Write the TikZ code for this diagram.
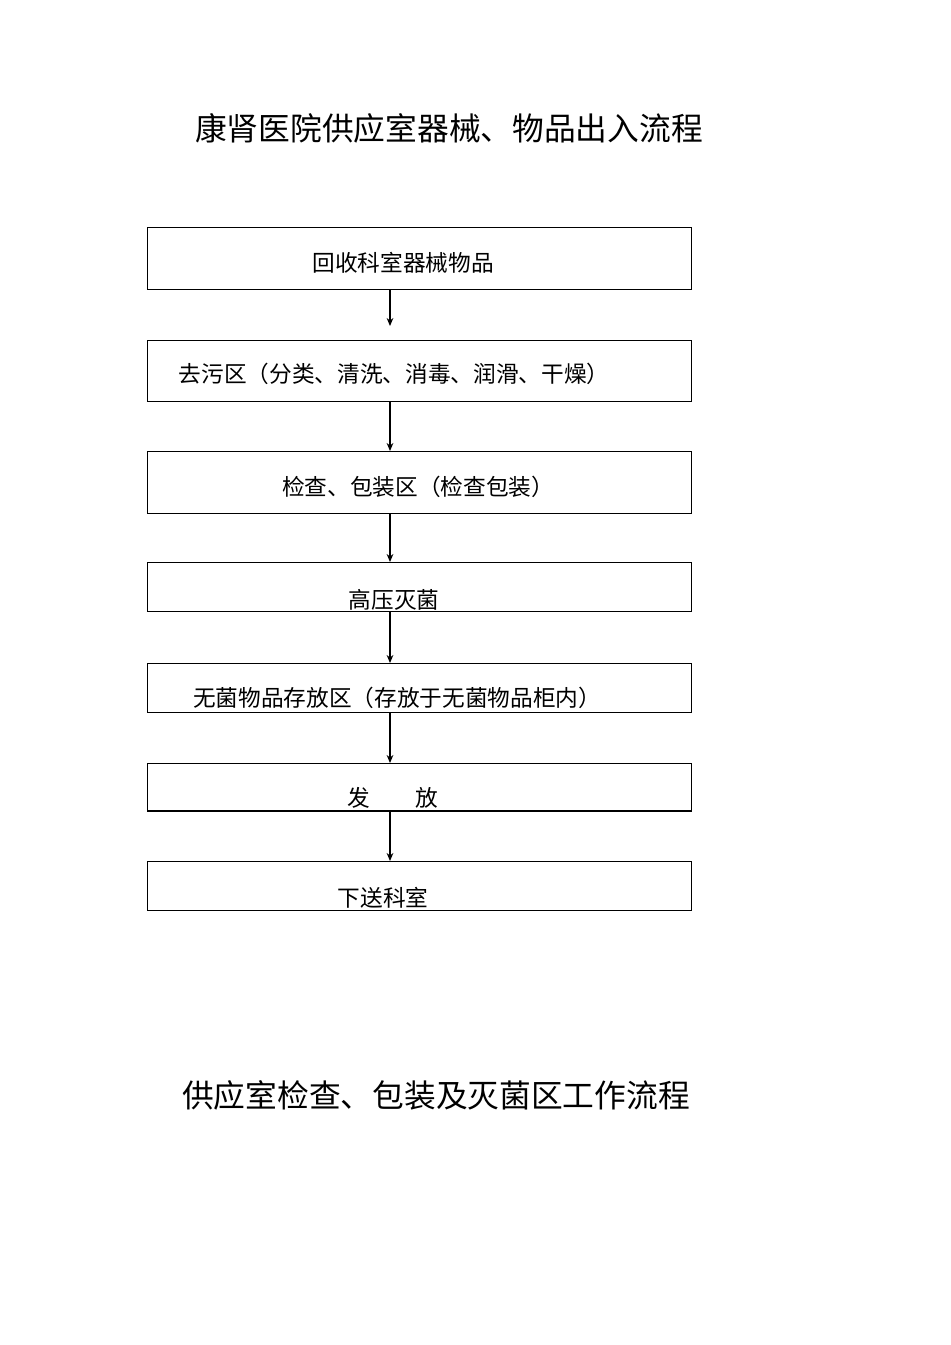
\documentclass[tikz,border=0pt]{standalone}
\usepackage{fontspec}
\newfontfamily\cjk{Noto Sans CJK SC}
\usetikzlibrary{arrows.meta}
\begin{document}
\begin{tikzpicture}[x=0.75pt,y=-0.75pt,
  box/.style={draw,thin,line width=0.6pt},
  lbl/.style={font=\cjk\fontsize{17}{19}\selectfont,inner sep=0pt,anchor=base},
  ttl/.style={font=\cjk\fontsize{23.8}{27}\selectfont,inner sep=0pt},
  arr/.style={-{Stealth[length=6pt,width=5pt]},line width=0.8pt}]
\useasboundingbox (0,0) rectangle (950,1345);
\node[ttl] (t1) at (449,128) {康肾医院供应室器械、物品出入流程};
\node[ttl] (t2) at (436,1095) {供应室检查、包装及灭菌区工作流程};
\draw[box] (147,227) rectangle (691,289); \coordinate (b1) at (390,289);
\node[lbl] (l1) at (403,271) {回收科室器械物品};
\draw[box] (147,340) rectangle (691,401); \coordinate (b2) at (390,401);
\node[lbl] (l2) at (394,382) {去污区（分类、清洗、消毒、润滑、干燥）};
\draw[box] (147,451) rectangle (691,513); \coordinate (t3) at (390,451); \coordinate (b3) at (390,513);
\node[lbl] (l3) at (418,495) {检查、包装区（检查包装）};
\draw[box] (147,562) rectangle (691,611); \coordinate (t4) at (390,562); \coordinate (b4) at (390,611);
\node[lbl] (l4) at (394,608) {高压灭菌};
\draw[box] (147,663) rectangle (691,712); \coordinate (t5) at (390,663); \coordinate (b5) at (390,712);
\node[lbl] (l5) at (397,706) {无菌物品存放区（存放于无菌物品柜内）};
\draw[box] (147,763) rectangle (691,811); \draw[line width=1.4pt] (147,811) -- (691,811);
\coordinate (t6) at (390,763); \coordinate (b6) at (390,811);
\node[lbl] (l6) at (393,806) {发\hspace{2em}放};
\draw[box] (147,861) rectangle (691,910); \coordinate (t7) at (390,861);
\node[lbl] (l7) at (383,906) {下送科室};
\coordinate (e1) at (390,326);
\draw[arr] (b1) -- (e1);
\draw[arr] (b2) -- (t3);
\draw[arr] (b3) -- (t4);
\draw[arr] (b4) -- (t5);
\draw[arr] (b5) -- (t6);
\draw[arr] (b6) -- (t7);
\end{tikzpicture}
\end{document}
